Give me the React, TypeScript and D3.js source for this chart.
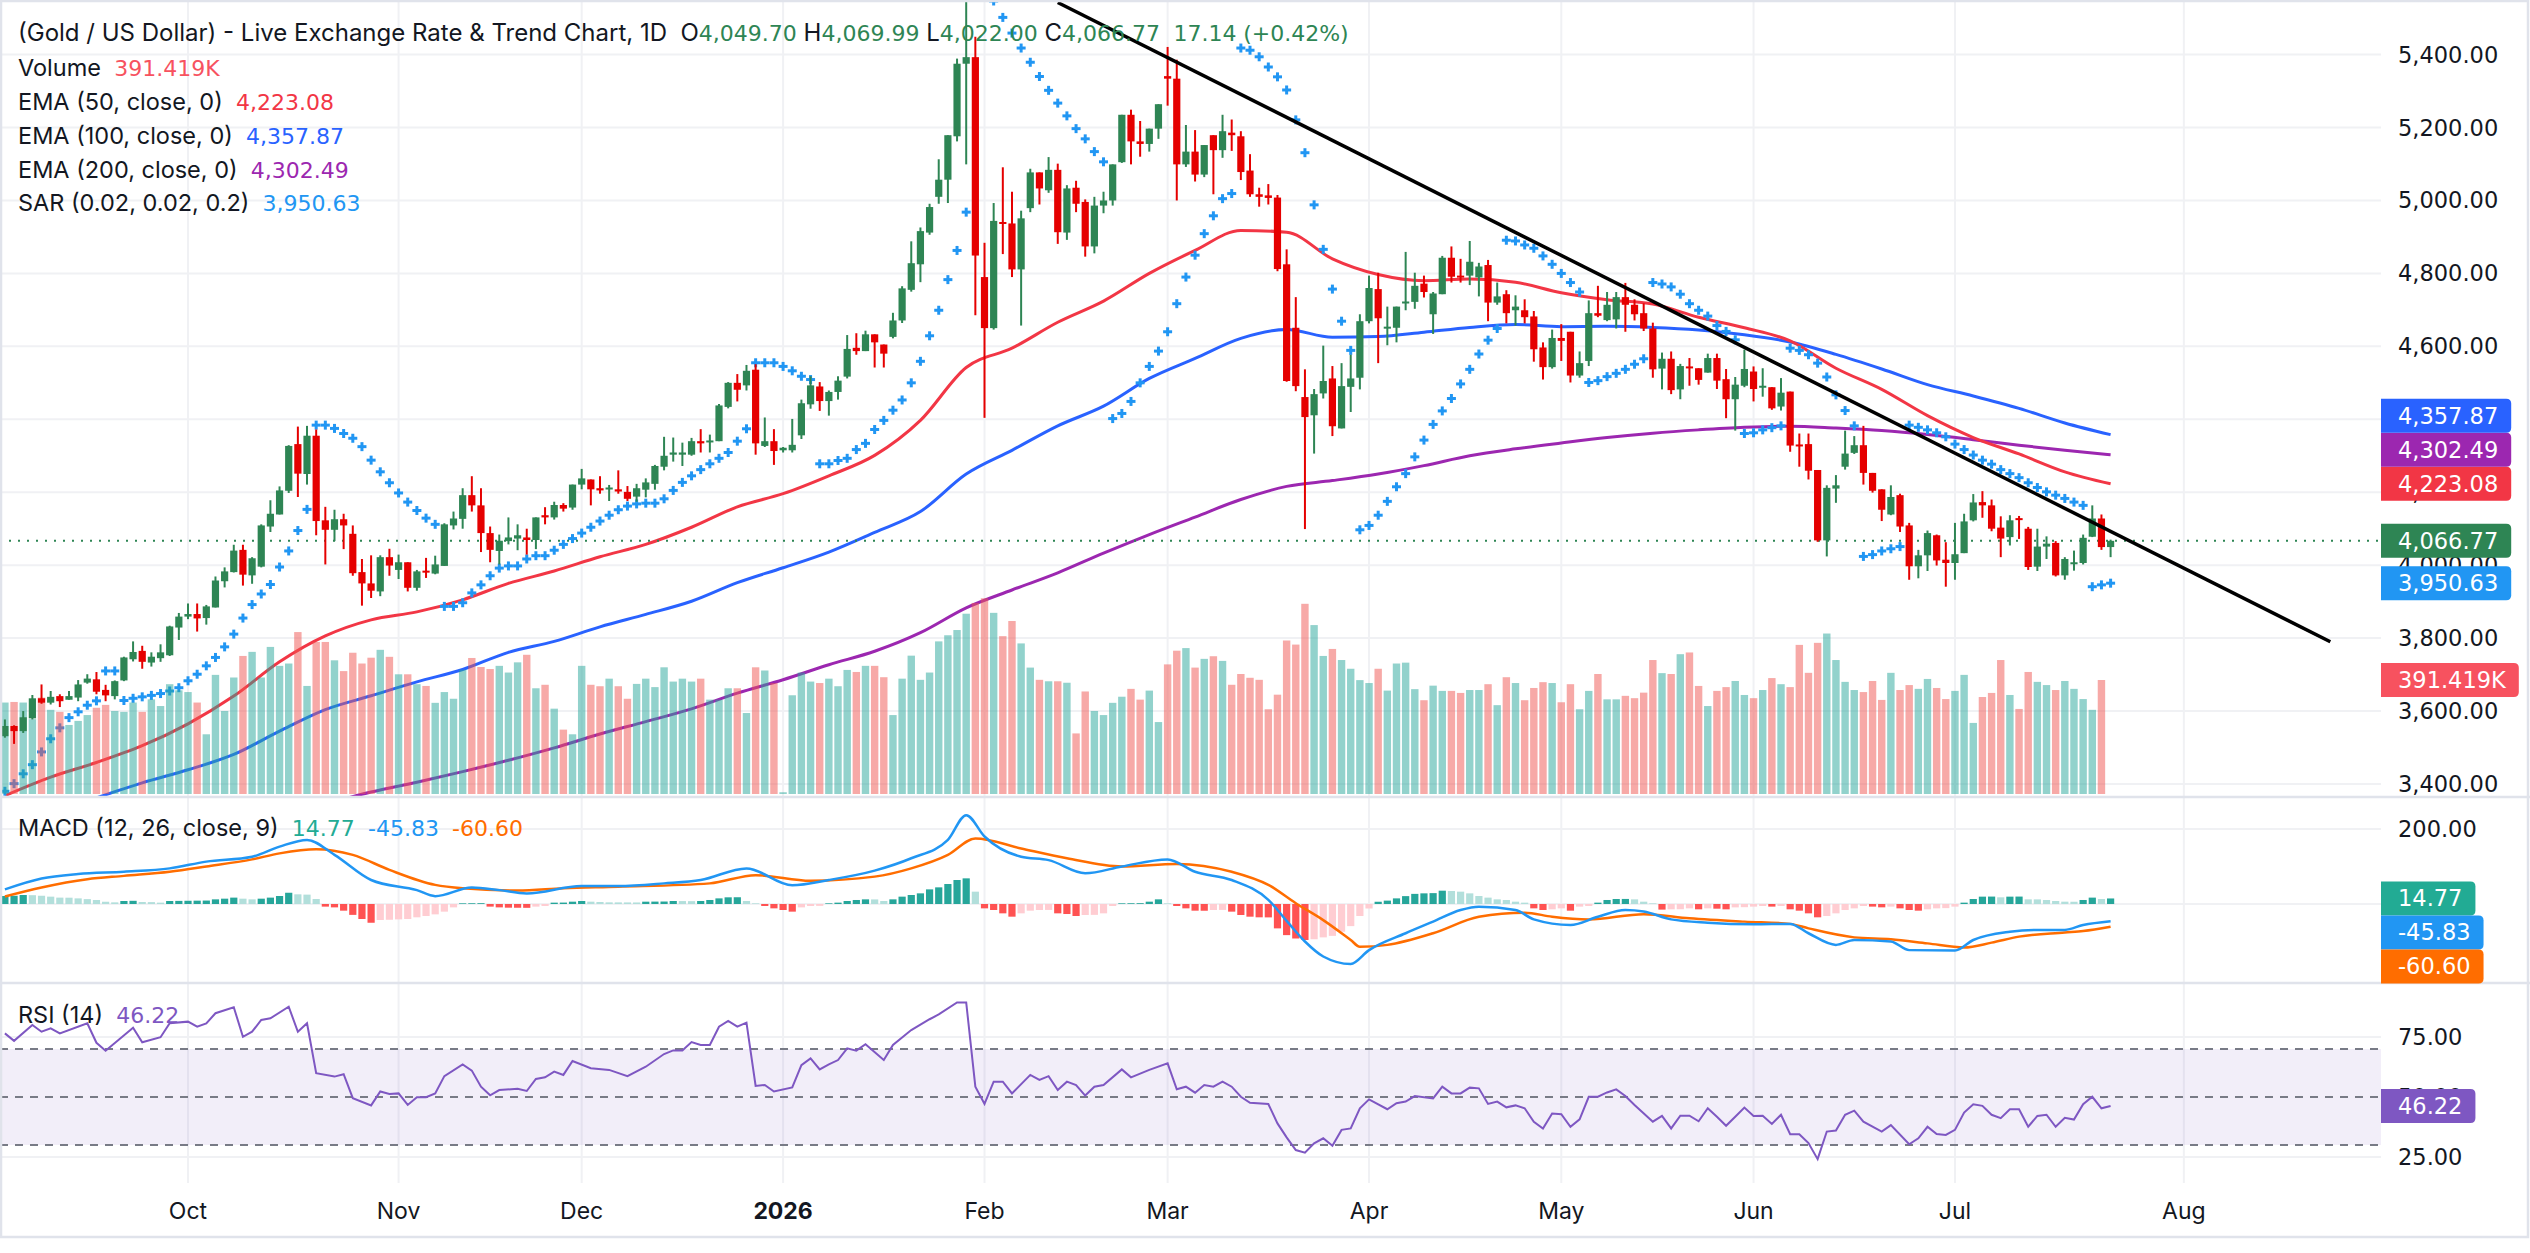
import React, { useEffect, useRef } from 'react'
import * as d3 from 'd3'

const WIDTH = 2530
const HEIGHT = 1253
const PLOT_RIGHT = 2381
const FONT = 'Inter, Roboto, sans-serif'
const NUM_FONT = '"DejaVu Sans", Inter, sans-serif'
const FS = 23.5
const NUM_FS = 22

const UP = '#2e8554'
const DOWN = '#e50000'
const TEXT = '#131722'
const GRID = '#f0f1f4'
const BORDER = '#e0e3eb'

// daily bars: [open, high, low, close]
const candles: [number, number, number, number][] = [
  [3531, 3577, 3527, 3559], [3559, 3561, 3510, 3545], [3545, 3600, 3540, 3583], [3580, 3644, 3577, 3635], [3635, 3673, 3620, 3623],
  [3623, 3655, 3618, 3639], [3641, 3646, 3611, 3627], [3631, 3655, 3631, 3641], [3637, 3685, 3627, 3673], [3678, 3701, 3675, 3689],
  [3687, 3707, 3646, 3653], [3658, 3672, 3627, 3643], [3641, 3684, 3632, 3682], [3684, 3749, 3682, 3747], [3742, 3791, 3736, 3762],
  [3765, 3779, 3716, 3735], [3733, 3761, 3722, 3749], [3745, 3783, 3735, 3761], [3753, 3834, 3751, 3832], [3829, 3869, 3795, 3859],
  [3859, 3895, 3852, 3866], [3866, 3895, 3818, 3854], [3855, 3891, 3837, 3887], [3884, 3969, 3884, 3958], [3956, 3994, 3939, 3983],
  [3981, 4056, 3980, 4040], [4042, 4056, 3944, 3974], [3972, 4022, 3949, 4019], [3996, 4112, 3994, 4109], [4106, 4178, 4091, 4141],
  [4139, 4216, 4139, 4205], [4204, 4329, 4198, 4327], [4332, 4380, 4187, 4251], [4250, 4382, 4221, 4355], [4355, 4372, 4082, 4121],
  [4123, 4160, 4002, 4097], [4097, 4152, 4066, 4126], [4126, 4141, 4044, 4109], [4086, 4109, 3971, 3978], [3981, 4017, 3889, 3950],
  [3950, 4027, 3910, 3930], [3928, 4027, 3915, 4022], [4022, 4045, 3971, 3999], [3987, 4029, 3962, 4008], [4008, 4008, 3928, 3938],
  [3938, 3987, 3930, 3983], [3985, 4020, 3965, 3980], [3977, 4026, 3975, 4002], [3998, 4115, 3998, 4112], [4109, 4147, 4098, 4128],
  [4127, 4211, 4100, 4192], [4192, 4244, 4147, 4164], [4164, 4211, 4036, 4088], [4088, 4106, 4008, 4042], [4039, 4084, 4002, 4067],
  [4066, 4131, 4057, 4076], [4073, 4112, 4041, 4082], [4076, 4100, 4029, 4069], [4069, 4131, 4044, 4131], [4137, 4159, 4112, 4131],
  [4131, 4174, 4125, 4165], [4165, 4170, 4147, 4155], [4158, 4221, 4152, 4221], [4221, 4264, 4208, 4238], [4235, 4235, 4164, 4208],
  [4211, 4244, 4196, 4205], [4210, 4220, 4176, 4213], [4208, 4260, 4196, 4202], [4201, 4217, 4176, 4182], [4188, 4223, 4174, 4211],
  [4207, 4238, 4186, 4227], [4223, 4275, 4207, 4272], [4270, 4352, 4260, 4300], [4303, 4350, 4284, 4309], [4303, 4336, 4272, 4309],
  [4303, 4349, 4300, 4340], [4340, 4373, 4309, 4334], [4337, 4358, 4309, 4342], [4340, 4442, 4340, 4438], [4434, 4502, 4430, 4500],
  [4500, 4524, 4449, 4481], [4493, 4549, 4479, 4533], [4536, 4551, 4303, 4334], [4327, 4405, 4324, 4340], [4340, 4373, 4275, 4313],
  [4315, 4324, 4309, 4322], [4315, 4401, 4309, 4330], [4356, 4454, 4346, 4444], [4441, 4518, 4429, 4493], [4490, 4502, 4423, 4450],
  [4450, 4479, 4410, 4475], [4475, 4518, 4454, 4506], [4517, 4631, 4512, 4593], [4596, 4636, 4577, 4587], [4587, 4643, 4587, 4633],
  [4633, 4633, 4542, 4611], [4605, 4605, 4542, 4580], [4626, 4692, 4622, 4671], [4671, 4765, 4664, 4759], [4755, 4888, 4750, 4828],
  [4825, 4926, 4776, 4916], [4912, 4991, 4906, 4982], [5010, 5113, 4991, 5057], [5057, 5179, 4993, 5179], [5176, 5389, 5162, 5375],
  [5375, 5547, 5099, 5393], [5393, 5449, 4685, 4849], [4790, 4884, 4404, 4650], [4650, 4993, 4646, 4944], [4941, 5091, 4853, 4937],
  [4937, 5024, 4790, 4811], [4811, 4972, 4657, 4951], [4979, 5087, 4968, 5077], [5077, 5077, 4989, 5033], [5028, 5119, 5021, 5084],
  [5084, 5101, 4881, 4913], [4912, 5042, 4892, 5033], [5035, 5054, 4968, 4991], [4996, 5003, 4846, 4874], [4874, 5010, 4855, 4986],
  [4986, 5024, 4965, 5000], [5000, 5099, 4986, 5099], [5105, 5235, 5103, 5235], [5235, 5249, 5099, 5162], [5162, 5218, 5120, 5155],
  [5155, 5197, 5134, 5197], [5197, 5264, 5169, 5264], [5341, 5421, 5260, 5334], [5334, 5386, 5000, 5099], [5099, 5207, 5092, 5134],
  [5134, 5193, 5052, 5071], [5071, 5152, 5064, 5152], [5179, 5179, 5017, 5138], [5138, 5235, 5117, 5190], [5186, 5222, 5136, 5179],
  [5176, 5190, 5056, 5078], [5082, 5127, 5010, 5017], [5017, 5035, 4983, 5010], [5014, 5045, 4989, 5007], [5008, 5015, 4806, 4812],
  [4825, 4866, 4503, 4505], [4651, 4735, 4477, 4491], [4461, 4537, 4099, 4406], [4411, 4483, 4306, 4469], [4471, 4602, 4457, 4505],
  [4512, 4546, 4354, 4381], [4375, 4554, 4375, 4491], [4489, 4577, 4420, 4512], [4514, 4688, 4482, 4669], [4669, 4794, 4663, 4760],
  [4757, 4802, 4554, 4677], [4649, 4709, 4603, 4654], [4651, 4709, 4611, 4709], [4720, 4859, 4699, 4723], [4722, 4802, 4703, 4766],
  [4772, 4794, 4734, 4749], [4688, 4749, 4634, 4745], [4743, 4848, 4743, 4843], [4843, 4874, 4775, 4791], [4794, 4840, 4775, 4789],
  [4794, 4889, 4768, 4832], [4789, 4829, 4737, 4819], [4823, 4837, 4669, 4720], [4720, 4775, 4714, 4737], [4743, 4754, 4663, 4691],
  [4699, 4740, 4657, 4709], [4699, 4729, 4663, 4680], [4682, 4697, 4558, 4592], [4597, 4611, 4509, 4543], [4543, 4646, 4539, 4623],
  [4623, 4661, 4560, 4615], [4640, 4640, 4501, 4520], [4520, 4586, 4514, 4554], [4560, 4726, 4546, 4691], [4691, 4766, 4680, 4684],
  [4672, 4749, 4669, 4714], [4674, 4749, 4649, 4735], [4735, 4774, 4640, 4714], [4714, 4729, 4671, 4688], [4691, 4718, 4642, 4649],
  [4649, 4665, 4514, 4537], [4539, 4583, 4482, 4566], [4566, 4586, 4469, 4480], [4482, 4552, 4455, 4546], [4545, 4568, 4492, 4540],
  [4540, 4540, 4495, 4508], [4528, 4580, 4528, 4568], [4568, 4580, 4483, 4506], [4510, 4538, 4403, 4455], [4455, 4516, 4369, 4495],
  [4492, 4591, 4488, 4538], [4531, 4545, 4449, 4483], [4488, 4540, 4462, 4492], [4488, 4488, 4426, 4430], [4435, 4513, 4424, 4473],
  [4476, 4476, 4311, 4328], [4331, 4361, 4270, 4328], [4332, 4361, 4235, 4259], [4261, 4261, 4064, 4068], [4068, 4219, 4024, 4212],
  [4210, 4247, 4171, 4219], [4270, 4369, 4262, 4306], [4308, 4354, 4305, 4329], [4329, 4382, 4221, 4253], [4253, 4253, 4199, 4204],
  [4208, 4208, 4121, 4152], [4139, 4219, 4137, 4187], [4192, 4196, 4091, 4106], [4109, 4116, 3960, 3997], [3997, 4042, 3964, 4027],
  [4027, 4095, 3984, 4088], [4082, 4084, 3999, 4013], [4015, 4063, 3941, 4006], [4006, 4116, 3960, 4030], [4033, 4141, 4033, 4120],
  [4123, 4195, 4120, 4172], [4173, 4203, 4130, 4164], [4164, 4180, 4093, 4100], [4103, 4134, 4022, 4073], [4077, 4137, 4054, 4123],
  [4129, 4135, 4072, 4126], [4100, 4105, 3987, 3995], [3996, 4100, 3984, 4051], [4051, 4079, 4017, 4059], [4061, 4066, 3969, 3972],
  [3972, 4022, 3960, 4017], [4004, 4040, 3985, 4008], [4006, 4084, 4002, 4075], [4078, 4164, 4077, 4128], [4128, 4139, 4042, 4049.63],
  [4049.7, 4069.99, 4022.0, 4066.77],
]

// volume in thousands (the live bar has none yet)
const volumes = [
  314, 316, 314, 257, 331, 289, 282, 237, 251, 271, 296, 306, 285, 282, 314, 282, 325, 302, 377, 356,
  350, 314, 205, 409, 285, 400, 474, 488, 400, 505, 440, 448, 556, 371, 522, 522, 459, 422, 485, 448,
  468, 495, 471, 411, 411, 377, 371, 313, 350, 327, 427, 467, 436, 429, 440, 417, 452, 478, 363, 375,
  293, 221, 205, 440, 375, 370, 396, 370, 327, 378, 396, 367, 435, 386, 396, 386, 396, 324, 324, 363,
  363, 278, 435, 424, 381, 6, 339, 417, 386, 381, 396, 370, 426, 419, 440, 440, 401, 271, 396, 475,
  392, 417, 524, 545, 563, 619, 656, 672, 622, 542, 594, 517, 434, 392, 387, 387, 382, 208, 352, 285,
  271, 313, 334, 361, 324, 355, 247, 445, 492, 501, 434, 464, 473, 457, 375, 412, 399, 392, 291, 341,
  527, 513, 653, 580, 474, 498, 460, 430, 391, 381, 430, 355, 448, 451, 360, 322, 372, 354, 354, 347,
  357, 357, 377, 305, 401, 381, 322, 364, 384, 381, 315, 377, 291, 354, 412, 325, 325, 337, 329, 348,
  460, 415, 412, 480, 486, 371, 302, 354, 367, 388, 340, 329, 357, 398, 377, 367, 512, 416, 519, 551,
  460, 385, 357, 350, 388, 323, 416, 357, 374, 361, 395, 364, 326, 354, 409, 244, 333, 347, 460, 340,
  292, 419, 385, 374, 357, 388, 361, 326, 289, 391.419,
]

// moving averages sampled every EMA_STEP bars
const EMA_STEP = 5
const ema50Start = 0
const ema50 = [
  3368, 3419, 3459, 3505, 3565, 3641, 3735, 3806, 3850, 3872, 3905, 3950, 3984, 4023, 4057, 4104, 4160, 4196, 4245, 4301,
  4397, 4542, 4595, 4666, 4724, 4800, 4863, 4918, 4913, 4840, 4797, 4780, 4785, 4776, 4747, 4728, 4716, 4680, 4651, 4615,
  4540, 4482, 4410, 4350, 4305, 4256, 4223.08,
]
const ema100Start = 10
const ema100 = [
  3362, 3403, 3439, 3481, 3545, 3604, 3642, 3680, 3714, 3761, 3791, 3831, 3865, 3901, 3952, 3993, 4036, 4090, 4147, 4250,
  4315, 4382, 4436, 4512, 4567, 4622, 4646, 4625, 4627, 4639, 4652, 4660, 4654, 4655, 4652, 4645, 4632, 4612, 4578, 4538,
  4495, 4464, 4430, 4390, 4357.87,
]
const ema200Start = 35
const ema200 = [
  3345, 3378, 3405, 3434, 3465, 3499, 3537, 3571, 3606, 3649, 3686, 3727, 3764, 3815, 3883, 3932, 3979, 4033, 4084, 4132,
  4180, 4216, 4232, 4250, 4273, 4300, 4319, 4335, 4350, 4362, 4371, 4378, 4381, 4376, 4369, 4358, 4344, 4329, 4315, 4302.49,
]

// parabolic SAR per bar (null where it sits above the visible range)
const sar: (number | null)[] = [
  3380, 3401, 3428, 3453, 3488, 3524, 3554, 3582, 3598, 3616, 3628, 3710, 3710, 3629, 3635, 3639, 3643, 3648, 3655, 3664,
  3683, 3701, 3724, 3747, 3776, 3811, 3855, 3892, 3921, 3947, 3995, 4039, 4095, 4153, 4384, 4384, 4375, 4361, 4348, 4325,
  4288, 4256, 4226, 4198, 4173, 4150, 4129, 4112, 3887, 3887, 3897, 3924, 3946, 3971, 3992, 3998, 3998, 4017, 4026, 4026,
  4041, 4057, 4073, 4088, 4104, 4121, 4137, 4152, 4162, 4168, 4170, 4170, 4182, 4205, 4227, 4245, 4262, 4278, 4293, 4309,
  4340, 4374, 4555, 4555, 4555, 4545, 4533, 4518, 4509, 4278, 4278, 4287, 4293, 4317, 4334, 4372, 4397, 4425, 4453, 4500,
  4559, 4629, 4699, 4783, 4863, 4968, null, null, 5547, 5502, 5459, 5418, 5379, 5340, 5302, 5267, 5232, 5197, 5169, 5134,
  5106, 4402, 4416, 4449, 4500, 4545, 4587, 4640, 4717, 4790, 4850, 4909, 4958, 5005, 5019, 5418, 5412, 5394, 5366, 5339,
  5303, 5221, 5131, 4988, 4866, 4757, 4669, 4589, 4097, 4109, 4137, 4175, 4215, 4251, 4297, 4343, 4386, 4423, 4457, 4497,
  4537, 4579, 4617, 4649, 4891, 4889, 4878, 4869, 4848, 4825, 4800, 4775, 4749, 4501, 4506, 4517, 4526, 4537, 4551, 4566,
  4775, 4771, 4763, 4743, 4717, 4699, 4683, 4657, 4641, 4618, 4361, 4363, 4371, 4377, 4382, 4595, 4589, 4577, 4554, 4516,
  4467, 4424, 4382, 4024, 4029, 4039, 4045, 4051, 4384, 4378, 4371, 4363, 4352, 4332, 4317, 4302, 4288, 4277, 4262, 4251,
  4240, 4226, 4213, 4201, 4192, 4183, 4173, 4164, 3941, 3946, 3950.63,
]

// MACD histogram per bar
const macdHist = [
  21.3, 22, 24, 23.5, 22, 19.6, 17, 16.8, 15, 13, 10.7, 6, 4.4, 8, 8.5, 5.3, 5, 3.6, 8, 8.3,
  8.6, 8.9, 9.2, 12.4, 14.2, 17, 14.2, 12.4, 14.2, 17, 21.3, 30, 25.8, 25, 13.3, -7, -9, -17.8, -29, -40,
  -50, -42.7, -42, -41, -40, -35.5, -32, -27.6, -20.4, -9, 1.8, 2, 2.2, -7, -9, -9.8, -10, -10.2, -7, -5.3,
  3.6, 3.8, 6.2, 8, 6.2, 5.3, 4.4, 4.3, 4.2, 4.1, 6.2, 6.4, 6.6, 8, 7.8, 7.6, 8, 10.7, 15, 17.8,
  18, 8, 1.8, -5.3, -11.6, -16, -20.4, -9, -5.3, -5, 1.8, 3.6, 8, 10.7, 12.4, 12.2, 8, 12.4, 19.6, 24,
  28.4, 39, 44.4, 53.3, 64, 68.4, 32.9, -11.6, -16, -24.9, -33.8, -24.9, -17.8, -16, -15.8, -24.9, -26.7, -32, -29.3, -29,
  -24.9, -5.3, 1.8, 2, 2.2, 6.2, 12.4, 1.8, -5.3, -11.6, -17.8, -18, -16, -15.8, -20.4, -29.3, -33.8, -35.5, -35.7, -65,
  -83, -92, -96, -94, -89, -85, -74, -59, -32, -12, 6, 9, 15, 21, 27, 28.4, 29, 35.5, 34.7, 32.9,
  28.4, 21.3, 17, 12.4, 10.7, 6.2, 3.6, -11.6, -16, -14.2, -11.6, -17.8, -7, -5.3, 3.6, 10.7, 13.3, 13.5, 12.4, 6.2,
  1.8, -15, -14.2, -14, -11.6, -14.2, -11.6, -12.5, -14.2, -9, -8.5, -7, -5.3, -7, -5.3, -14.2, -17.8, -24.9, -35.5, -32,
  -24.9, -16, -11.6, -5.3, -7, -8.9, -7, -11.6, -16, -17.8, -14.2, -11.6, -11, -7, 3.6, 13.3, 19.6, 19.8, 17.8, 19.6,
  19.8, 12.4, 12.3, 10.7, 8, 6.2, 6, 10.7, 17, 13.3, 14.77,
]

// [bar, value]
const macdLine: [number, number][] = [
  [0, 39], [4, 68], [8, 80], [13, 86], [18, 95], [22, 113], [27, 126], [30, 153], [33, 171], [36, 131],
  [40, 64], [45, 37], [47, 21], [51, 44], [54, 37], [57, 28], [63, 48], [67, 48], [72, 55], [76, 64],
  [81, 95], [86, 50], [90, 64], [95, 89], [99, 122], [103, 171], [105, 237], [107, 180], [111, 126], [114, 117],
  [118, 82], [122, 100], [127, 119], [130, 86], [134, 64], [138, 11], [140, -45], [142, -100], [144, -140], [147, -160],
  [149, -123], [153, -78], [156, -47], [159, -16], [161, -7], [165, -16], [167, -41], [171, -56], [174, -34], [177, -16],
  [179, -20], [182, -41], [186, -50], [191, -54], [195, -53], [197, -78], [200, -109], [202, -96], [206, -100], [208, -123],
  [213, -124], [215, -96], [219, -74], [222, -69], [225, -69], [227, -56], [230, -45.83],
]
const macdSignal: [number, number][] = [
  [0, 20], [4, 44], [9, 66], [13, 75], [18, 86], [22, 100], [27, 119], [30, 135], [34, 146], [38, 131],
  [42, 91], [47, 51], [50, 42], [56, 36], [61, 42], [67, 46], [77, 55], [82, 77], [88, 62], [95, 73],
  [99, 95], [103, 131], [106, 175], [111, 148], [116, 122], [122, 100], [128, 107], [134, 86], [138, 51], [141, 2],
  [144, -43], [147, -96], [148, -114], [151, -109], [156, -78], [161, -34], [166, -23], [169, -34], [173, -41], [179, -27],
  [184, -38], [190, -47], [195, -53], [197, -65], [202, -89], [206, -94], [210, -105], [214, -116], [217, -103], [220, -87],
  [225, -76], [227, -72], [230, -60.6],
]

const rsi: [number, number][] = [
  [0, 76.5], [1, 73.4], [3, 80], [4, 77.2], [5, 78.6], [6, 76.5], [9, 80.7], [10, 72.6], [11, 69.3], [14, 78.9],
  [15, 72.8], [17, 74.9], [18, 80.7], [20, 81.4], [21, 79.3], [22, 80.7], [23, 84.9], [25, 87.4], [26, 75.1], [27, 77.2],
  [28, 82.1], [29, 82.8], [31, 87.6], [32, 77.2], [33, 80.7], [34, 59.9], [36, 58.5], [37, 59.5], [38, 49.5], [40, 46.5],
  [41, 52.3], [42, 51.3], [43, 51.5], [44, 46.7], [45, 49.9], [46, 49.9], [47, 51.5], [48, 58.7], [50, 63.6], [51, 61],
  [52, 54.3], [53, 50.7], [54, 52.9], [56, 53.4], [57, 52.5], [58, 57.5], [59, 58.2], [60, 60.6], [61, 59.2], [62, 65],
  [64, 62], [66, 61.3], [68, 58.7], [70, 62.6], [72, 67.9], [73, 69.4], [74, 69.4], [75, 72.9], [76, 71.7], [77, 71.7],
  [78, 79.3], [79, 81.7], [80, 79.3], [81, 81], [82, 54.6], [83, 55], [84, 52.3], [86, 54], [87, 63.3], [88, 66.1],
  [89, 61.5], [90, 63.6], [91, 65.4], [92, 70.3], [93, 69.3], [94, 72], [96, 65.4], [97, 71.7], [99, 77.9], [101, 82.4],
  [102, 84.4], [104, 89.4], [105, 89.4], [106, 54.3], [107, 47.1], [108, 56.4], [109, 56.4], [110, 51.5], [112, 59.2], [113, 57.1],
  [114, 58.7], [115, 52.9], [116, 56.4], [117, 55], [118, 50.6], [119, 54.3], [120, 55], [122, 61.5], [123, 58.2], [125, 61.3],
  [127, 64], [128, 53.2], [129, 54.3], [130, 51.8], [131, 55], [132, 54.3], [133, 56.4], [134, 54.3], [135, 50.1], [136, 47.6],
  [138, 47.1], [139, 39], [140, 33.2], [141, 27.9], [142, 26.8], [143, 30.7], [144, 32.8], [145, 29.7], [146, 36.3], [147, 36.9],
  [148, 45.3], [149, 49], [151, 44.9], [152, 47.4], [153, 48.1], [154, 50.4], [156, 49.4], [157, 54.3], [158, 51.5], [159, 51.5],
  [160, 53.9], [161, 53.6], [162, 47.1], [163, 48.1], [164, 45.7], [165, 46.5], [166, 45.3], [167, 39.7], [168, 36.9], [169, 43.1],
  [170, 42.8], [171, 37.6], [172, 40.7], [173, 50.1], [174, 50.1], [175, 51.9], [176, 53.2], [177, 50.4], [178, 46.7], [180, 39.7],
  [181, 42.1], [182, 36.9], [183, 42.2], [184, 42.2], [185, 39.9], [186, 45.3], [187, 41.8], [188, 38], [189, 41.8], [190, 45.6],
  [191, 42.1], [192, 42.2], [193, 38.8], [194, 42.6], [195, 34.5], [196, 34.5], [197, 30.8], [198, 24.1], [199, 35.6], [200, 36],
  [201, 42.6], [202, 44.3], [203, 39.7], [205, 35.6], [206, 38.3], [208, 30.3], [209, 32.8], [210, 37.6], [211, 34.6], [212, 34.2],
  [213, 36.3], [214, 43.5], [215, 47], [216, 46.3], [217, 42.6], [218, 41.2], [219, 44.9], [220, 44.9], [221, 37.6], [222, 42.1],
  [223, 42.6], [224, 37.6], [225, 41.3], [226, 40.6], [227, 47], [228, 50.1], [229, 45.3], [230, 46.22],
]

// hand-drawn resistance line, [bar, price] at both ends
const trendline: [number, number][] = [[115, 5543], [254, 3790]]

const monthTicks = [
  { label: 'Oct', bar: 20 }, { label: 'Nov', bar: 43 }, { label: 'Dec', bar: 63 },
  { label: '2026', bar: 85, bold: true }, { label: 'Feb', bar: 107 }, { label: 'Mar', bar: 127 },
  { label: 'Apr', bar: 149 }, { label: 'May', bar: 170 }, { label: 'Jun', bar: 191 },
  { label: 'Jul', bar: 213 }, { label: 'Aug', bar: 238 },
]
const priceTicks = [3400, 3600, 3800, 4000, 4200, 4400, 4600, 4800, 5000, 5200, 5400]
const macdGrid = [0, 200]
const macdTicks = [200]
const rsiTicks = [25, 50, 75]

// push value labels apart so none overlap; earlier items keep their spot
function stackLabels(ys: number[], h: number): number[] {
  const placed: number[] = []
  return ys.map(y0 => {
    let y = y0
    let dir = 0
    for (let k = 0; k < 20; k++) {
      const hit = placed.find(p => Math.abs(y - p) < h - 0.01)
      if (hit === undefined) break
      if (dir === 0) dir = y0 < hit ? -1 : 1
      y = hit + dir * h
    }
    placed.push(y)
    return y
  })
}

type Part = [string, string, boolean?]

export default function App() {
  const svgRef = useRef<SVGSVGElement>(null)

  useEffect(() => {
    if (!svgRef.current) return
    const svg = d3.select(svgRef.current)
    svg.selectAll('*').remove()
    svg.attr('width', WIDTH).attr('height', HEIGHT).style('font-family', FONT)

    const fmt = d3.format(',.2f')
    const last = candles.length - 1

    const x = d3.scaleLinear().domain([0, 230]).range([4.9, 2110.6])
    const yPrice = d3.scaleLinear().domain([3400, 5400]).range([784, 54.6])
    const yVol = d3.scaleLinear().domain([0, 391.419]).range([794, 680])
    const yMacd = d3.scaleLinear().domain([0, 200]).range([904, 829])
    const yRsi = d3.scaleLinear().domain([30, 70]).range([1145, 1049])

    const panes = { main: [0, 796], macd: [798, 982], rsi: [984, 1183] }

    svg.append('rect').attr('width', WIDTH).attr('height', HEIGHT).attr('fill', '#fff')

    const defs = svg.append('defs')
    Object.entries(panes).forEach(([k, [t, b]]) => {
      defs.append('clipPath').attr('id', `clip-${k}`)
        .append('rect').attr('x', 0).attr('y', t).attr('width', PLOT_RIGHT).attr('height', b - t)
    })

    // grid
    const grid = svg.append('g').attr('stroke', GRID).attr('stroke-width', 2)
    priceTicks.forEach(v => grid.append('line').attr('x1', 0).attr('x2', PLOT_RIGHT).attr('y1', yPrice(v)).attr('y2', yPrice(v)))
    macdGrid.forEach(v => grid.append('line').attr('x1', 0).attr('x2', PLOT_RIGHT).attr('y1', yMacd(v)).attr('y2', yMacd(v)))
    const rsiGrid = d3.scaleLinear().domain([25, 75]).range([yRsi(25), yRsi(75)])
    ;[25, 75].forEach(v => grid.append('line').attr('x1', 0).attr('x2', PLOT_RIGHT).attr('y1', rsiGrid(v)).attr('y2', rsiGrid(v)))
    monthTicks.forEach(t => grid.append('line').attr('x1', x(t.bar)).attr('x2', x(t.bar)).attr('y1', 0).attr('y2', 1183))

    // ---- main pane
    const main = svg.append('g').attr('clip-path', 'url(#clip-main)')

    const emaLine = d3.line<[number, number]>().x(d => x(d[0])).y(d => yPrice(d[1])).curve(d3.curveMonotoneX)
    const emaSeries: [number[], number, string][] = [
      [ema200, ema200Start, '#9c27b0'],
      [ema100, ema100Start, '#2962ff'],
      [ema50, ema50Start, '#f23645'],
    ]
    emaSeries.forEach(([vals, start, color]) => {
      main.append('path')
        .datum(vals.map((v, k) => [start + k * EMA_STEP, v] as [number, number]))
        .attr('d', emaLine)
        .attr('fill', 'none')
        .attr('stroke', color)
        .attr('stroke-width', 3)
    })

    // SAR crosses
    const sarG = main.append('g').attr('stroke', '#2196f3').attr('stroke-width', 3)
    sar.forEach((v, i) => {
      if (v === null) return
      const cx = x(i), cy = yPrice(v)
      sarG.append('line').attr('x1', cx - 4.5).attr('x2', cx + 4.5).attr('y1', cy).attr('y2', cy)
      sarG.append('line').attr('x1', cx).attr('x2', cx).attr('y1', cy - 4.5).attr('y2', cy + 4.5)
    })

    // volume on top of the averages, half transparent
    volumes.forEach((v, i) => {
      const [o, , , c] = candles[i]
      main.append('rect')
        .attr('x', x(i) - 3.7)
        .attr('width', 7.4)
        .attr('y', yVol(v))
        .attr('height', yVol(0) - yVol(v))
        .attr('fill', c >= o ? 'rgba(38,166,154,0.5)' : 'rgba(239,83,80,0.5)')
    })

    // last price line
    main.append('line')
      .attr('x1', 0).attr('x2', PLOT_RIGHT)
      .attr('y1', yPrice(candles[last][3])).attr('y2', yPrice(candles[last][3]))
      .attr('stroke', UP).attr('stroke-width', 2).attr('stroke-dasharray', '2 7')

    // candles
    candles.forEach(([o, h, l, c], i) => {
      const color = c >= o ? UP : DOWN
      const cx = x(i)
      main.append('line')
        .attr('x1', cx).attr('x2', cx).attr('y1', yPrice(h)).attr('y2', yPrice(l))
        .attr('stroke', color).attr('stroke-width', 2)
      const top = yPrice(Math.max(o, c))
      const hgt = Math.max(2, Math.abs(yPrice(o) - yPrice(c)))
      main.append('rect')
        .attr('x', cx - 3.6).attr('width', 7.2)
        .attr('y', top).attr('height', hgt)
        .attr('fill', color)
    })

    main.append('line')
      .attr('x1', x(trendline[0][0])).attr('y1', yPrice(trendline[0][1]))
      .attr('x2', x(trendline[1][0])).attr('y2', yPrice(trendline[1][1]))
      .attr('stroke', '#000').attr('stroke-width', 3.5)

    // ---- MACD pane
    const macdG = svg.append('g').attr('clip-path', 'url(#clip-macd)')
    macdHist.forEach((v, i) => {
      const prev = i > 0 ? macdHist[i - 1] : v
      const color = v >= 0
        ? (v >= prev ? '#26a69a' : '#b2dfdb')
        : (v <= prev ? '#ff5252' : '#ffcdd2')
      macdG.append('rect')
        .attr('x', x(i) - 3.6).attr('width', 7.2)
        .attr('y', Math.min(yMacd(0), yMacd(v)))
        .attr('height', Math.abs(yMacd(v) - yMacd(0)))
        .attr('fill', color)
    })
    const macdPath = d3.line<[number, number]>().x(d => x(d[0])).y(d => yMacd(d[1])).curve(d3.curveMonotoneX)
    macdG.append('path').datum(macdSignal).attr('d', macdPath).attr('fill', 'none').attr('stroke', '#ff6d00').attr('stroke-width', 2.5)
    macdG.append('path').datum(macdLine).attr('d', macdPath).attr('fill', 'none').attr('stroke', '#2196f3').attr('stroke-width', 2.5)

    // ---- RSI pane
    const rsiG = svg.append('g').attr('clip-path', 'url(#clip-rsi)')
    rsiG.append('rect')
      .attr('x', 0).attr('width', PLOT_RIGHT)
      .attr('y', yRsi(70)).attr('height', yRsi(30) - yRsi(70))
      .attr('fill', 'rgba(126,87,194,0.1)')
    ;[70, 50, 30].forEach(v => {
      rsiG.append('line')
        .attr('x1', 0).attr('x2', PLOT_RIGHT).attr('y1', yRsi(v)).attr('y2', yRsi(v))
        .attr('stroke', '#787b86').attr('stroke-width', 2).attr('stroke-dasharray', '8 7')
    })
    rsiG.append('path')
      .datum(rsi)
      .attr('d', d3.line<[number, number]>().x(d => x(d[0])).y(d => yRsi(d[1])))
      .attr('fill', 'none').attr('stroke', '#7e57c2').attr('stroke-width', 2)

    // ---- frame
    const frame = svg.append('g').attr('stroke', BORDER)
    frame.append('line').attr('x1', 0).attr('x2', WIDTH).attr('y1', 797).attr('y2', 797).attr('stroke-width', 2.5)
    frame.append('line').attr('x1', 0).attr('x2', WIDTH).attr('y1', 983).attr('y2', 983).attr('stroke-width', 2.5)
    frame.append('rect').attr('x', 1).attr('y', 1).attr('width', WIDTH - 3).attr('height', 1236)
      .attr('fill', 'none').attr('stroke-width', 2.5)

    // ---- legends (numbers set in a wider face)
    const legend = (y: number, size: number, parts: Part[]) => {
      const t = svg.append('text').attr('x', 18).attr('y', y).attr('font-size', size).style('white-space', 'pre')
      parts.forEach(([s, c, num]) => {
        const sp = t.append('tspan').attr('fill', c).text(s)
        if (num) sp.attr('font-family', NUM_FONT).attr('font-size', NUM_FS)
      })
    }
    const [o, h, l, c] = candles[last]
    const chg = c - candles[last - 1][3]
    const pct = chg / candles[last - 1][3] * 100
    legend(41, 24, [
      ['(Gold / US Dollar) - Live Exchange Rate & Trend Chart, 1D  ', TEXT],
      ['O', TEXT], [fmt(o), UP, true], [' H', TEXT], [fmt(h), UP, true], [' L', TEXT], [fmt(l), UP, true],
      [' C', TEXT], [fmt(c), UP, true], ['  ', TEXT], [chg.toFixed(2), UP, true], [' ', TEXT], [`(+${pct.toFixed(2)}%)`, UP, true],
    ])
    const volLast = volumes[volumes.length - 1]
    legend(76, FS, [['Volume  ', TEXT], [`${volLast.toFixed(3)}K`, '#f7525f', true]])
    legend(110, FS, [['EMA (50, close, 0)  ', TEXT], [fmt(ema50[ema50.length - 1]), '#f23645', true]])
    legend(144, FS, [['EMA (100, close, 0)  ', TEXT], [fmt(ema100[ema100.length - 1]), '#2962ff', true]])
    legend(178, FS, [['EMA (200, close, 0)  ', TEXT], [fmt(ema200[ema200.length - 1]), '#9c27b0', true]])
    legend(211, FS, [['SAR (0.02, 0.02, 0.2)  ', TEXT], [fmt(sar[last] as number), '#2196f3', true]])

    const hLast = macdHist[macdHist.length - 1]
    const mLast = macdLine[macdLine.length - 1][1]
    const sLast = macdSignal[macdSignal.length - 1][1]
    legend(836, FS, [
      ['MACD (12, 26, close, 9)  ', TEXT], [hLast.toFixed(2), '#22ab94', true],
      ['  ', TEXT], [mLast.toFixed(2), '#2196f3', true], ['  ', TEXT], [sLast.toFixed(2), '#ff6d00', true],
    ])
    const rLast = rsi[rsi.length - 1][1]
    legend(1023, FS, [['RSI (14)  ', TEXT], [rLast.toFixed(2), '#7e57c2', true]])

    // ---- axes
    const axis = svg.append('g')
      .attr('font-family', NUM_FONT).attr('font-size', 22.5)
      .attr('fill', TEXT).attr('dominant-baseline', 'central')
    priceTicks.forEach(v => axis.append('text').attr('x', 2398).attr('y', yPrice(v)).text(fmt(v)))
    macdTicks.forEach(v => axis.append('text').attr('x', 2398).attr('y', yMacd(v)).text(fmt(v)))
    rsiTicks.forEach(v => axis.append('text').attr('x', 2398).attr('y', rsiGrid(v)).text(fmt(v)))

    monthTicks.forEach(t => {
      svg.append('text')
        .attr('x', x(t.bar)).attr('y', 1211)
        .attr('text-anchor', 'middle').attr('dominant-baseline', 'central')
        .attr('font-size', 23).attr('font-weight', t.bold ? 700 : 400).attr('fill', TEXT)
        .text(t.label)
    })

    // ---- value tags on the price scale
    const BOX_H = 34
    const tag = (y: number, label: string, color: string) => {
      const g = svg.append('g')
      const txt = g.append('text').attr('x', 2398).attr('y', y).attr('dominant-baseline', 'central')
        .attr('font-family', NUM_FONT).attr('font-size', 22.5).attr('fill', '#fff').text(label)
      const w = (txt.node() as SVGTextElement).getComputedTextLength() + 30
      const x0 = PLOT_RIGHT, y0 = y - BOX_H / 2, r = 5
      g.insert('path', 'text')
        .attr('d', `M${x0},${y0}H${x0 + w - r}Q${x0 + w},${y0} ${x0 + w},${y0 + r}V${y0 + BOX_H - r}Q${x0 + w},${y0 + BOX_H} ${x0 + w - r},${y0 + BOX_H}H${x0}Z`)
        .attr('fill', color)
    }

    const mainTags: [number, string, string][] = [
      [yPrice(c), fmt(c), UP],
      [yPrice(ema50[ema50.length - 1]), fmt(ema50[ema50.length - 1]), '#f23645'],
      [yPrice(ema200[ema200.length - 1]), fmt(ema200[ema200.length - 1]), '#9c27b0'],
      [yPrice(ema100[ema100.length - 1]), fmt(ema100[ema100.length - 1]), '#2962ff'],
      [yPrice(sar[last] as number), fmt(sar[last] as number), '#2196f3'],
      [yVol(volLast), `${volLast.toFixed(3)}K`, '#f7525f'],
    ]
    const mainYs = stackLabels(mainTags.map(d => d[0]), BOX_H)
    mainTags.forEach((d, k) => tag(mainYs[k], d[1], d[2]))

    const macdTags: [number, string, string][] = [
      [yMacd(hLast), hLast.toFixed(2), '#22ab94'],
      [yMacd(mLast), mLast.toFixed(2), '#2196f3'],
      [yMacd(sLast), sLast.toFixed(2), '#ff6d00'],
    ]
    const macdYs = stackLabels(macdTags.map(d => d[0]), BOX_H)
    macdTags.forEach((d, k) => tag(macdYs[k], d[1], d[2]))

    tag(yRsi(rLast), rLast.toFixed(2), '#7e57c2')
  }, [])

  return (
    <div style={{ width: WIDTH, height: HEIGHT }}>
      <style>{'body { margin: 0; }'}</style>
      <svg ref={svgRef} style={{ display: 'block' }} />
    </div>
  )
}
